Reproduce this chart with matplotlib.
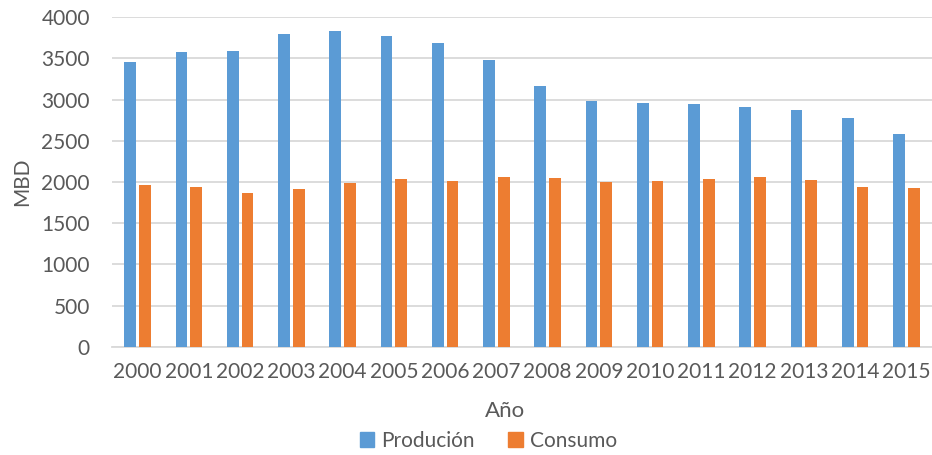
import numpy as np
import matplotlib
matplotlib.use("Agg")
import matplotlib.pyplot as plt
from matplotlib.patches import Patch

plt.rcParams['font.family'] = ['Lato', 'DejaVu Sans']

years = ['2000', '2001', '2002', '2003', '2004', '2005', '2006', '2007',
         '2008', '2009', '2010', '2011', '2012', '2013', '2014', '2015']
produccion = [3458, 3572, 3592, 3794, 3830, 3766, 3689, 3479,
              3164, 2978, 2958, 2942, 2909, 2869, 2780, 2582]
consumo = [1964, 1935, 1867, 1911, 1983, 2031, 2018, 2064,
           2052, 1994, 2012, 2040, 2060, 2020, 1939, 1927]

blue = '#5B9BD5'
orange = '#ED7D31'
txt = '#595959'
grid = '#D9D9D9'

fig = plt.figure(figsize=(9.32, 4.55), dpi=100)
ax = fig.add_axes([0.1202, 0.2374, 0.8798, 0.7252])

x = np.arange(len(years))
w = 0.23
ax.bar(x - 0.143, produccion, w, color=blue, zorder=3)
ax.bar(x + 0.143, consumo, w, color=orange, zorder=3)

ax.set_xlim(-0.5, len(years) - 0.5)
ax.set_ylim(0, 4000)
ax.set_yticks(range(0, 4001, 500))
ax.set_xticks(x)
ax.set_xticklabels(years)
ax.yaxis.grid(True, color=grid, linewidth=1.3, zorder=0)
ax.tick_params(axis='both', length=0, labelsize=15, colors=txt)
ax.tick_params(axis='x', pad=11)
ax.tick_params(axis='y', pad=16)
for s in ['top', 'right', 'left']:
    ax.spines[s].set_visible(False)
ax.spines['bottom'].set_color(grid)
ax.spines['bottom'].set_linewidth(1.3)

ax.set_ylabel('MBD', fontsize=15, color=txt)
ax.yaxis.set_label_coords(-0.098, 0.5)
ax.set_xlabel('Año', fontsize=16, color=txt)
ax.xaxis.set_label_coords(0.479, -0.165)

handles = [Patch(color=blue, label='Produción'), Patch(color=orange, label='Consumo')]
fig.legend(handles=handles, loc='center', bbox_to_anchor=(0.524, 0.031), ncol=2,
           frameon=False, fontsize=15, labelcolor=txt, handlelength=0.7,
           handleheight=0.7, handletextpad=0.35, columnspacing=1.6)

fig.savefig('out.png', dpi=100)
